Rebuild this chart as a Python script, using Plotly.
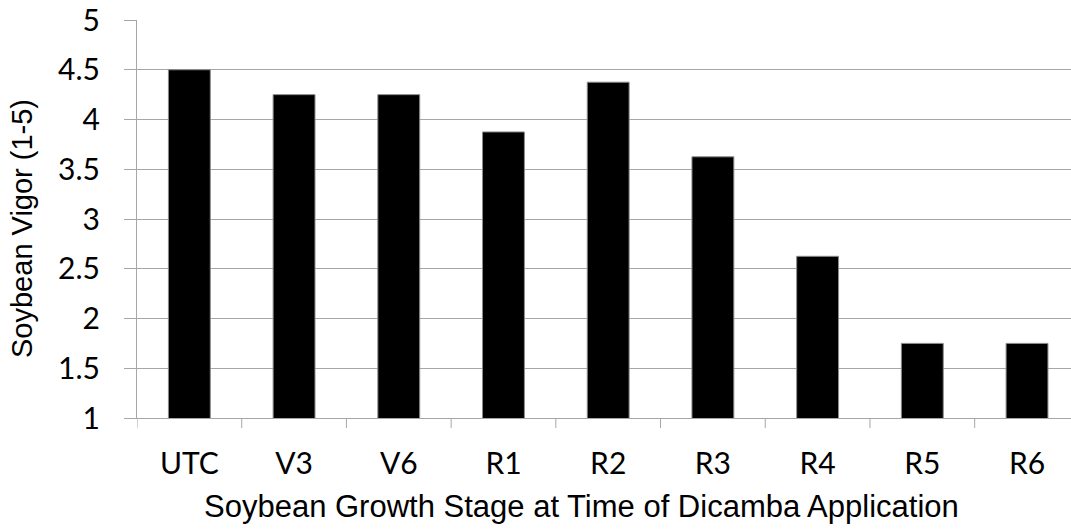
import plotly.graph_objects as go

stages = ["UTC", "V3", "V6", "R1", "R2", "R3", "R4", "R5", "R6"]
vigor = [4.5, 4.25, 4.25, 3.875, 4.375, 3.625, 2.625, 1.75, 1.75]
y_ticks = [1, 1.5, 2, 2.5, 3, 3.5, 4, 4.5, 5]
y_tick_text = ["1", "1.5", "2", "2.5", "3", "3.5", "4", "4.5", "5"]

TICK_FONT = "Lato, Open Sans, sans-serif"
TITLE_FONT = "Liberation Sans, Arial, sans-serif"
GRID = "#a6a6a6"

fig = go.Figure(
    go.Bar(
        x=list(range(len(stages))),
        y=vigor,
        base=0,
        width=0.4,
        marker=dict(color="black", line=dict(color="#8c8c8c", width=1)),
        hoverinfo="skip",
    )
)

fig.update_layout(
    width=1071,
    height=529,
    margin=dict(l=137, r=0, t=20, b=111),
    plot_bgcolor="white",
    paper_bgcolor="white",
    showlegend=False,
    font=dict(family=TICK_FONT, size=30, color="black"),
)

fig.update_xaxes(
    tickmode="array",
    tickvals=list(range(len(stages))),
    ticktext=stages,
    range=[-0.5, 8.42],
    automargin=False,
    showgrid=False,
    showline=True,
    linecolor=GRID,
    linewidth=1,
    ticks="",
    ticklabelstandoff=19,
    ticklabeloverflow="allow",
    tickfont=dict(family=TICK_FONT, size=30, color="black"),
)

fig.update_yaxes(
    range=[1, 5],
    tickmode="array",
    tickvals=y_ticks,
    ticktext=y_tick_text,
    automargin=False,
    showgrid=True,
    gridcolor=GRID,
    gridwidth=1,
    showline=True,
    linecolor=GRID,
    linewidth=1,
    ticks="outside",
    ticklen=12,
    tickcolor=GRID,
    ticklabelstandoff=18,
    ticklabeloverflow="allow",
    tickfont=dict(family=TICK_FONT, size=30, color="black"),
    zeroline=False,
)

# category separator ticks on the x axis
for i in range(len(stages)):
    fig.add_shape(type="line", xref="x", yref="paper",
                  x0=i - 0.5, x1=i - 0.5, y0=0, y1=-0.025,
                  line=dict(color=GRID, width=1))

fig.add_annotation(text="Soybean Growth Stage at Time of Dicamba Application",
                   xref="paper", yref="paper", x=0.476, y=-0.2236,
                   xanchor="center", yanchor="middle", showarrow=False,
                   font=dict(family=TITLE_FONT, size=31, color="black"))
fig.add_annotation(text="Soybean Vigor (1-5)",
                   xref="paper", yref="paper", x=-0.1231, y=0.475,
                   xanchor="center", yanchor="middle", textangle=-90, showarrow=False,
                   font=dict(family=TITLE_FONT, size=29, color="black"))

fig.write_html(
    "out.html",
    config={"displayModeBar": False},
    post_script="document.body.style.margin='0';document.body.style.overflow='hidden';",
)
